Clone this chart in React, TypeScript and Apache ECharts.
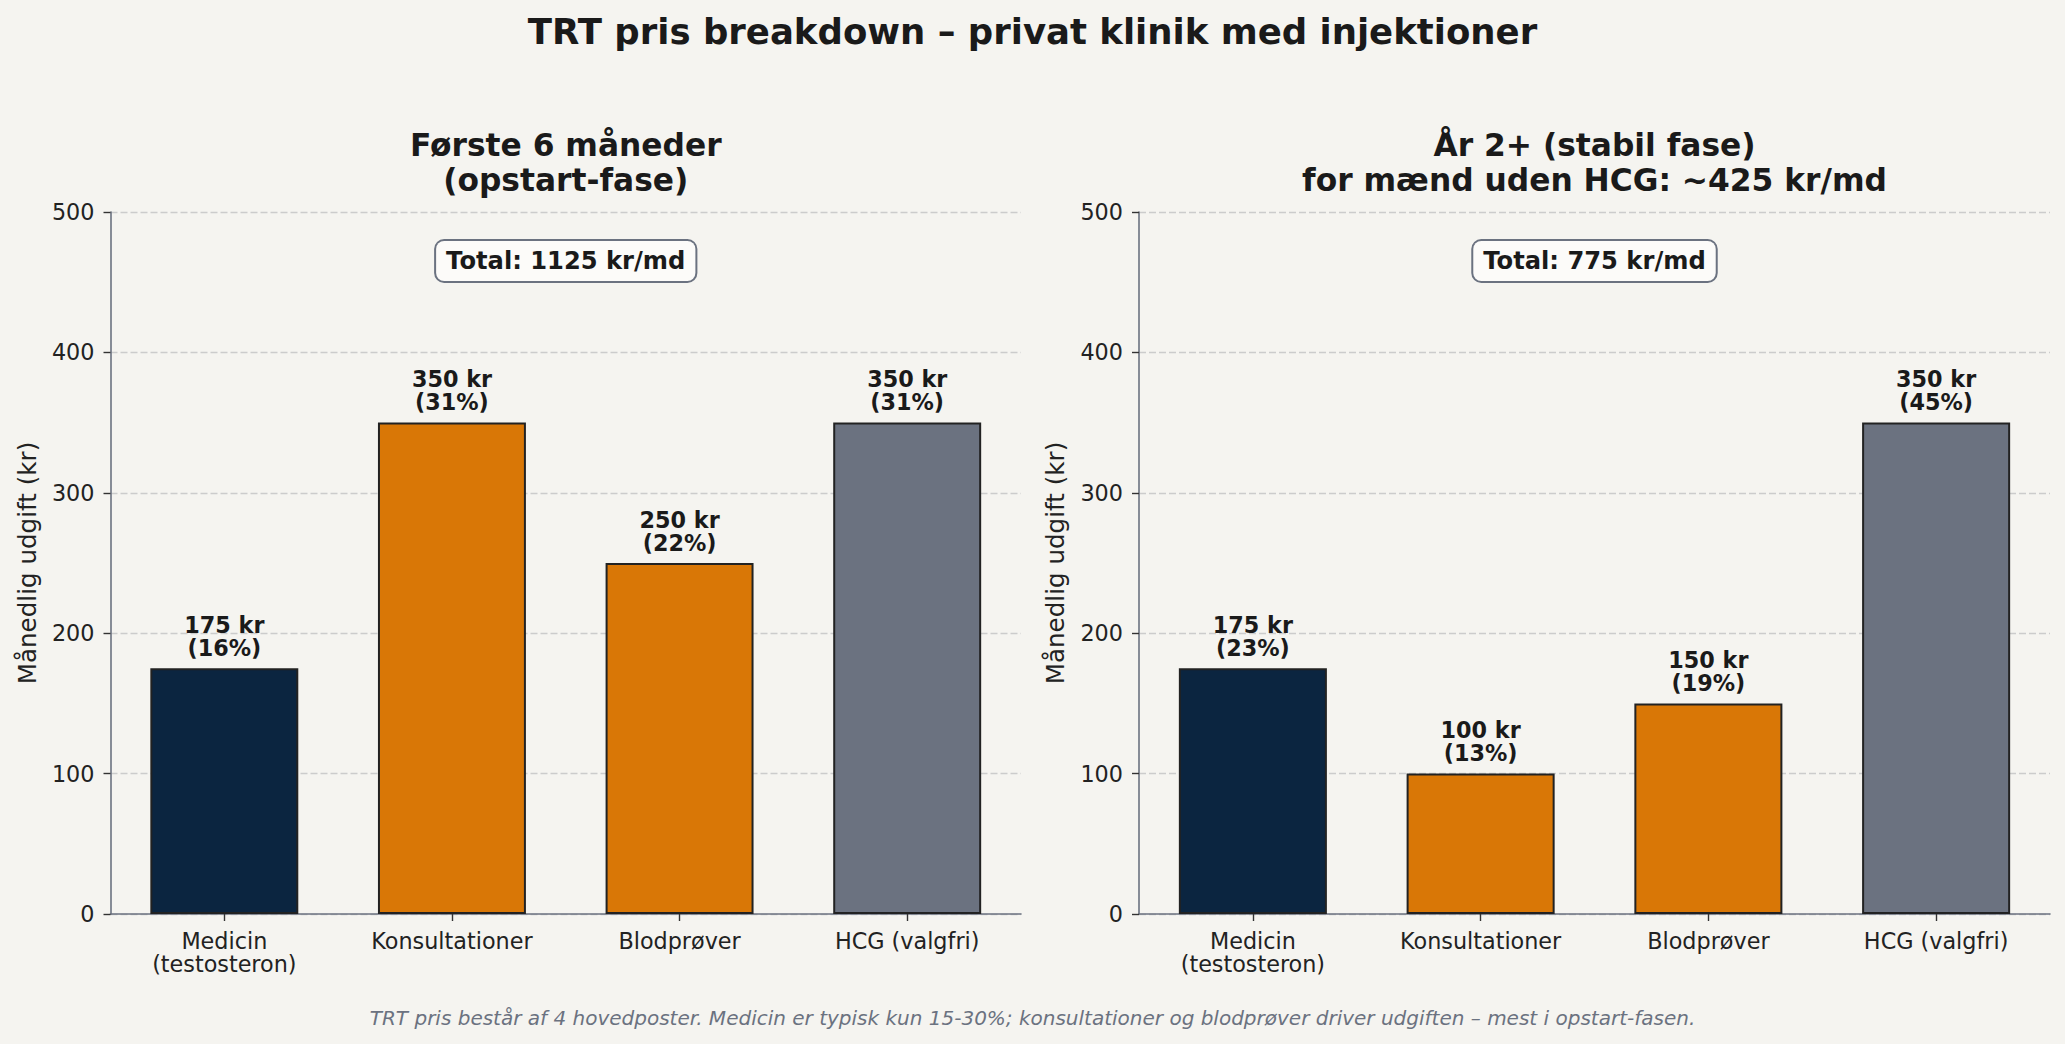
import React, { useEffect, useRef } from 'react';
import * as echarts from 'echarts';

const categories = ['Medicin\n(testosteron)', 'Konsultationer', 'Blodprøver', 'HCG (valgfri)'];
const startValues = [175, 350, 250, 350];
const stableValues = [175, 100, 150, 350];
const barColors = ['#0b2540', '#d97706', '#d97706', '#6b7280'];
const yMin = 0;
const yMax = 500;
const yInterval = 100;
const mainTitle = 'TRT pris breakdown – privat klinik med injektioner';
const panelTitles = ['Første 6 måneder\n(opstart-fase)', 'År 2+ (stabil fase)\nfor mænd uden HCG: ~425 kr/md'];
const yAxisName = 'Månedlig udgift (kr)';
const footnote =
  'TRT pris består af 4 hovedposter. Medicin er typisk kun 15-30%; konsultationer og blodprøver driver udgiften – mest i opstart-fasen.';

const FONT = 'DejaVu Sans';
const TEXT = '#1a1a1a';

const sum = (a: number[]) => a.reduce((s, v) => s + v, 0);

const grids = [
  { left: 110.5, top: 212, width: 910.5, height: 702 },
  { left: 1139, top: 212, width: 911, height: 702 },
];

function makeSeries(values: number[], idx: number) {
  const total = sum(values);
  return {
    type: 'bar',
    xAxisIndex: idx,
    yAxisIndex: idx,
    barWidth: '65%',
    data: values.map((v, i) => ({
      value: v,
      itemStyle: { color: barColors[i], borderColor: '#222222', borderWidth: 2 },
    })),
    label: {
      show: true,
      position: 'top',
      distance: 9,
      formatter: (p: any) => `${p.value} kr\n(${Math.round((p.value / total) * 100)}%)`,
      fontFamily: FONT,
      fontWeight: 'bold',
      fontSize: 22.3,
      lineHeight: 23,
      color: TEXT,
      align: 'center',
    },
  };
}

function makeXAxis(idx: number) {
  return {
    type: 'category',
    gridIndex: idx,
    data: categories,
    axisLine: { show: true, lineStyle: { color: '#6b7280', width: 1.6 } },
    axisTick: { show: true, alignWithLabel: true, length: 7, lineStyle: { color: '#333333', width: 1.4 } },
    axisLabel: { fontFamily: FONT, fontSize: 22.3, lineHeight: 23, color: '#222222', margin: 15 },
    splitLine: { show: false },
  };
}

function makeYAxis(idx: number) {
  return {
    type: 'value',
    gridIndex: idx,
    min: yMin,
    max: yMax,
    interval: yInterval,
    name: yAxisName,
    nameLocation: 'middle',
    nameGap: 71,
    nameRotate: 90,
    nameTextStyle: { fontFamily: FONT, fontSize: 24.6, color: '#222222' },
    axisLine: { show: true, lineStyle: { color: '#6b7280', width: 1.6 } },
    axisTick: { show: true, length: 7, lineStyle: { color: '#333333', width: 1.4 } },
    axisLabel: { fontFamily: FONT, fontSize: 22.3, color: '#222222', margin: 16 },
    splitLine: { show: true, lineStyle: { color: '#cccccc', type: [7, 3], width: 1.3 } },
  };
}

export default function App() {
  const ref = useRef<HTMLDivElement>(null);
  useEffect(() => {
    if (!ref.current) return;
    const chart = echarts.init(ref.current, undefined, { renderer: 'svg' });
    const centers = grids.map((g) => g.left + g.width / 2);
    const totals = [sum(startValues), sum(stableValues)];
    chart.setOption({
      animation: false,
      backgroundColor: '#f5f4f0',
      textStyle: { fontFamily: FONT },
      grid: grids,
      xAxis: [makeXAxis(0), makeXAxis(1)],
      yAxis: [makeYAxis(0), makeYAxis(1)],
      series: [makeSeries(startValues, 0), makeSeries(stableValues, 1)],
      graphic: [
        {
          type: 'text',
          x: 1032.5,
          y: 31,
          z: 100,
          style: {
            text: mainTitle,
            align: 'center',
            verticalAlign: 'middle',
            fontFamily: FONT,
            fontWeight: 'bold',
            fontSize: 35.5,
            fill: TEXT,
          },
        },
        ...panelTitles.map((t, i) => ({
          type: 'text',
          x: centers[i],
          y: 162,
          z: 100,
          style: {
            text: t,
            align: 'center',
            verticalAlign: 'middle',
            fontFamily: FONT,
            fontWeight: 'bold',
            fontSize: 31.3,
            lineHeight: 35,
            fill: TEXT,
          },
        })),
        ...totals.map((t, i) => ({
          type: 'text',
          x: centers[i],
          y: 261,
          z: 100,
          style: {
            text: `Total: ${t} kr/md`,
            align: 'center',
            verticalAlign: 'middle',
            fontFamily: FONT,
            fontWeight: 'bold',
            fontSize: 24.2,
            fill: TEXT,
            backgroundColor: '#fcfbf9',
            borderColor: '#6b7280',
            borderWidth: 2,
            borderRadius: 8,
            padding: [8, 10],
          },
        })),
        {
          type: 'text',
          x: 1032.5,
          y: 1018,
          z: 100,
          style: {
            text: footnote,
            align: 'center',
            verticalAlign: 'middle',
            fontFamily: FONT,
            fontStyle: 'italic',
            fontSize: 20,
            fill: '#6b7280',
          },
        },
      ],
    });
    return () => chart.dispose();
  }, []);
  return <div ref={ref} style={{ position: 'fixed', left: 0, top: 0, width: 2065, height: 1044 }} />;
}
